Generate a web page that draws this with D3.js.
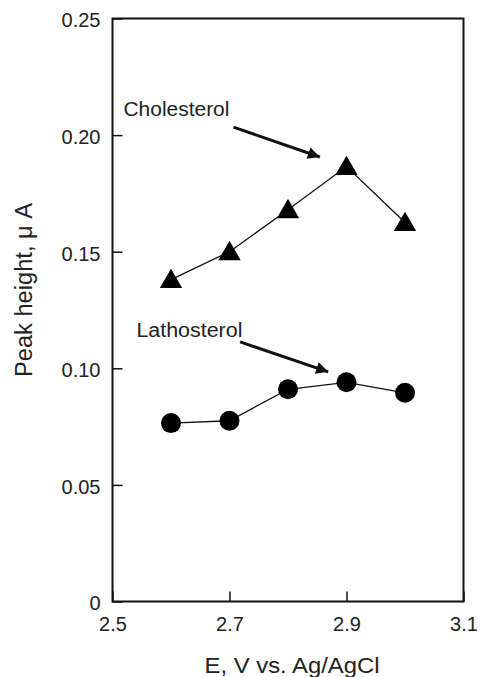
<!DOCTYPE html>
<html>
<head>
<meta charset="utf-8">
<script src="https://cdn.jsdelivr.net/npm/d3@7"></script>
<style>
  html, body { margin: 0; padding: 0; background: #fff; }
  svg { display: block; }
  text { font-family: "Liberation Sans", Arial, sans-serif; fill: #222; }
</style>
</head>
<body>
<svg id="chart" width="480" height="677"></svg>
<script>
// ---- data ----
const potentials = [2.6, 2.7, 2.8, 2.9, 3.0];
const cholesterol = [0.138, 0.150, 0.168, 0.1865, 0.1625];
const lathosterol = [0.0765, 0.0775, 0.091, 0.094, 0.0895];
const xTicks = [2.5, 2.7, 2.9, 3.1];
const yTicks = [0, 0.05, 0.10, 0.15, 0.20, 0.25];
const xLabel = "E, V vs. Ag/AgCl";
const yLabel = "Peak height, \u03bc A";
const annotations = [
  { text: "Cholesterol", tx: 2.5187, ty: 0.2080, x1: 2.7068, y1: 0.2034, x2: 2.8545, y2: 0.1906 },
  { text: "Lathosterol", tx: 2.5409, ty: 0.1133, x1: 2.7182, y1: 0.1113, x2: 2.8687, y2: 0.0985 }
];

// ---- layout ----
const svg = d3.select("#chart");
const mLeft = 112.5, mRight = 463.5, mTop = 18.5, mBottom = 601.5;
const x = d3.scaleLinear().domain([2.5, 3.1]).range([mLeft, mRight]);
const y = d3.scaleLinear().domain([0, 0.25]).range([mBottom, mTop]);

// arrow marker
svg.append("defs").append("marker")
  .attr("id", "head").attr("viewBox", "0 0 10 10")
  .attr("refX", 10).attr("refY", 5)
  .attr("markerWidth", 5).attr("markerHeight", 4)
  .attr("markerUnits", "strokeWidth")
  .attr("orient", "auto")
  .append("path").attr("d", "M0,0 L10,5 L0,10 Z").attr("fill", "#111");

// axes
const yAxis = d3.axisLeft(y).tickValues(yTicks).tickSize(-10).tickPadding(12)
  .tickFormat(d => d === 0 ? "0" : d3.format(".2f")(d));
const gy = svg.append("g").attr("transform", `translate(${mLeft},0)`).call(yAxis);
gy.select(".domain").remove();
gy.selectAll("line").attr("stroke", "#111").attr("stroke-width", 1.5);
gy.selectAll("text").style("font-size", "20px").attr("dy", "0.42em")
  .attr("font-family", null).style("fill", "#222");

const xAxis = d3.axisBottom(x).tickValues(xTicks).tickSize(-10).tickPadding(15)
  .tickFormat(d3.format(".1f"));
const gx = svg.append("g").attr("transform", `translate(0,${mBottom})`).call(xAxis);
gx.select(".domain").remove();
gx.selectAll("line").attr("stroke", "#111").attr("stroke-width", 1.5);
gx.selectAll("text").style("font-size", "20px").attr("font-family", null).style("fill", "#222");

// frame
svg.append("rect")
  .attr("x", mLeft).attr("y", mTop)
  .attr("width", mRight - mLeft).attr("height", mBottom - mTop)
  .attr("fill", "none").attr("stroke", "#111").attr("stroke-width", 2);

// axis titles
svg.append("text")
  .attr("x", 292).attr("y", 673)
  .attr("text-anchor", "middle")
  .style("font-size", "22px")
  .attr("textLength", 175).attr("lengthAdjust", "spacingAndGlyphs")
  .text(xLabel);

svg.append("text")
  .attr("transform", "translate(32,290) rotate(-90)")
  .attr("text-anchor", "middle")
  .style("font-size", "23px")
  .attr("textLength", 174).attr("lengthAdjust", "spacingAndGlyphs")
  .text(yLabel);

// lines
const line = d3.line().x((d, i) => x(potentials[i])).y(d => y(d));
svg.append("path").datum(cholesterol).attr("d", line)
  .attr("fill", "none").attr("stroke", "#111").attr("stroke-width", 1.3);
svg.append("path").datum(lathosterol).attr("d", line)
  .attr("fill", "none").attr("stroke", "#111").attr("stroke-width", 1.3);

// markers
const tri = d3.symbol().type(d3.symbolTriangle).size(215);
svg.append("g").selectAll("path").data(cholesterol).join("path")
  .attr("transform", (d, i) => `translate(${x(potentials[i])},${y(d) + 2})`)
  .attr("d", tri).attr("fill", "#000");

svg.append("g").selectAll("circle").data(lathosterol).join("circle")
  .attr("cx", (d, i) => x(potentials[i])).attr("cy", d => y(d))
  .attr("r", 10).attr("fill", "#000");

// annotations
annotations.forEach(a => {
  svg.append("text").attr("x", x(a.tx)).attr("y", y(a.ty))
    .style("font-size", "20px")
    .attr("textLength", 106).attr("lengthAdjust", "spacingAndGlyphs")
    .text(a.text);
  svg.append("line")
    .attr("x1", x(a.x1)).attr("y1", y(a.y1))
    .attr("x2", x(a.x2)).attr("y2", y(a.y2))
    .attr("stroke", "#111").attr("stroke-width", 3)
    .attr("marker-end", "url(#head)");
});
</script>
</body>
</html>
